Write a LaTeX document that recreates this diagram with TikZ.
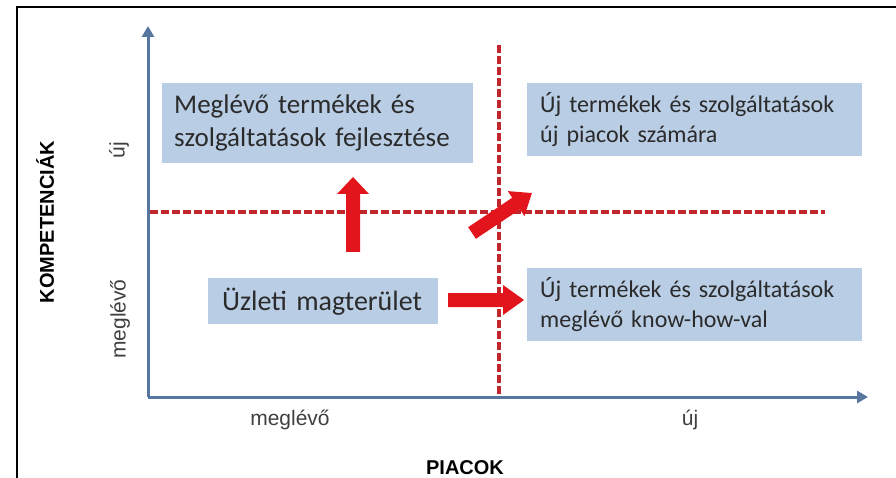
\documentclass[tikz,border=0pt]{standalone}
\usepackage{fontspec}
\setmainfont{Liberation Sans}
\newfontfamily\boxfont{Carlito}
\usetikzlibrary{arrows.meta}
\definecolor{boxblue}{HTML}{B9CDE5}
\definecolor{boxtext}{HTML}{2B2B2B}
\definecolor{axisblue}{HTML}{5877A0}
\definecolor{dashred}{HTML}{C0262C}
\definecolor{arrowred}{HTML}{E3151C}
\definecolor{labelgray}{HTML}{404040}
\newcommand{\blkarrow}[6]{% #1 tail, #2 angle, #3 length, #4 shaft half, #5 head half, #6 head length
  \fill[arrowred, shift={#1}, rotate=#2] (0,-#4) -- ({#3-#6},-#4) -- ({#3-#6},-#5) -- (#3,0) -- ({#3-#6},#5) -- ({#3-#6},#4) -- (0,#4) -- cycle;}
\tikzset{
  quadbox/.style={fill=boxblue, text=boxtext, anchor=north west, align=left, inner ysep=0pt, font=\boxfont},
  axisline/.style={draw=axisblue, line width=3pt, -{Triangle[length=11pt,width=12pt]}},
  quadline/.style={draw=dashred, line width=3.5pt, dash pattern=on 8pt off 3pt},
  axislabel/.style={text=labelgray, font=\fontsize{21}{24}\selectfont},
  axistitle/.style={text=black, font=\bfseries\fontsize{20}{24}\selectfont}
}
\begin{document}
\begin{tikzpicture}[x=1pt,y=-1pt]
\useasboundingbox[fill=white] (0,0) rectangle (896,478);
% frame
\draw[line width=2.5pt, black] (17,478) -- (17,7) -- (896,7);
% coordinates
\coordinate (O) at (148,397);
\coordinate (ytip) at (148,26);
\coordinate (xtip) at (868,397);
\coordinate (vtop) at (499,45);
\coordinate (vbot) at (499,396);
\coordinate (hleft) at (150,212);
\coordinate (hright) at (825,212);
% quadrant lines
\draw[quadline] (vtop) -- (vbot);
\draw[quadline] (hleft) -- (hright);
% axes
\draw[axisline] (O) -- (ytip);
\draw[axisline] (O) -- (xtip);
% boxes
\node[quadbox, inner xsep=12pt, text width=287pt, minimum height=80pt, font=\boxfont\fontsize{27}{33}\selectfont] (b1) at (162,83)
  {Meglévő termékek és\\szolgáltatások fejlesztése};
\node[quadbox, inner xsep=13pt, text width=309pt, minimum height=73pt, font=\boxfont\fontsize{24}{30}\selectfont] (b2) at (527,83)
  {Új termékek és szolgáltatások\\új piacok számára};
\node[quadbox, inner xsep=14pt, text width=202pt, minimum height=46pt, font=\boxfont\fontsize{28}{33}\selectfont] (b3) at (208,278)
  {Üzleti magterület};
\node[quadbox, inner xsep=13pt, text width=309pt, minimum height=73pt, font=\boxfont\fontsize{24}{30}\selectfont] (b4) at (527,268)
  {Új termékek és szolgáltatások\\meglévő know-how-val};
% block arrows
\blkarrow{(353,252)}{90}{75}{7}{16}{17}
\blkarrow{(448,300)}{0}{76}{7}{15}{21}
\blkarrow{(472,233)}{33.7}{72}{7}{15}{19}
% labels
\node[axistitle, rotate=90] (kt) at (45,222) {KOMPETENCIÁK};
\node[axislabel, rotate=90] (yu) at (119,150) {új};
\node[axislabel, rotate=90] (ym) at (120,319) {meglévő};
\node[axislabel] (xm) at (290,420) {meglévő};
\node[axislabel] (xu) at (690,420) {új};
\node[axistitle] (pt) at (465,468) {PIACOK};
\end{tikzpicture}
\end{document}
